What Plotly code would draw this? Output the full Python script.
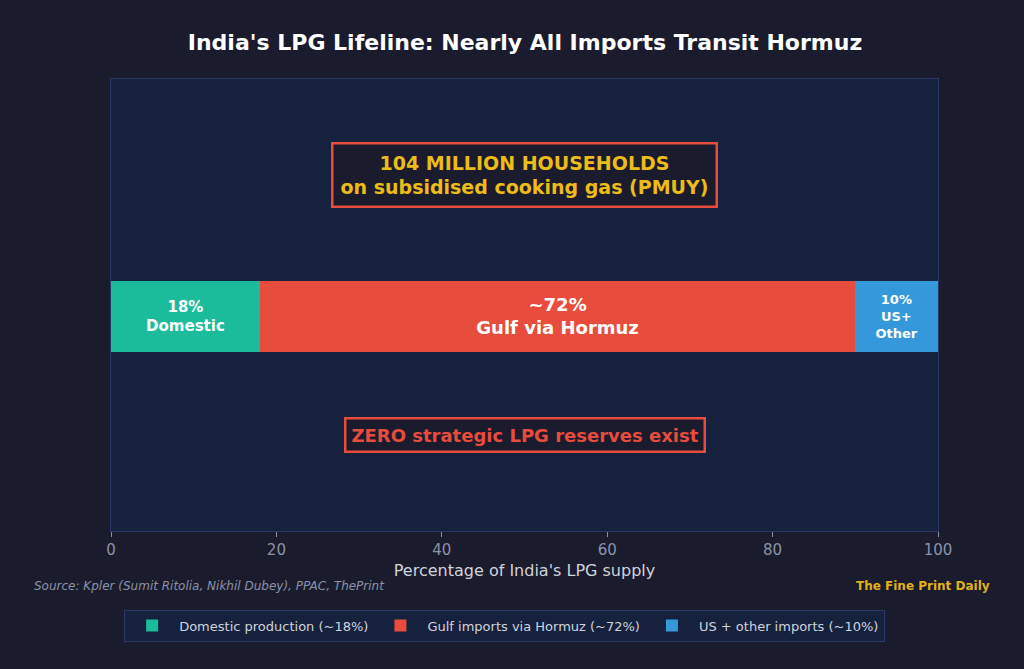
import plotly.graph_objects as go

categories = ["LPG supply"]
series_names = ["Domestic production (~18%)", "Gulf imports via Hormuz (~72%)", "US + other imports (~10%)"]
series_values = [18, 72, 10]
bar_labels = ["18%<br>Domestic", "~72%<br>Gulf via Hormuz", "10%<br>US+<br>Other"]
label_sizes = [15, 18, 13]
colors = ["#1abc9c", "#e74c3c", "#3498db"]
x_ticks = [0, 20, 40, 60, 80, 100]

PAPER = "#1b1b2e"
PLOT = "#16213e"
BORDER = "#2c3867"
FONT = "DejaVu Sans"

fig = go.Figure()
for name, val, lab, sz, col in zip(series_names, series_values, bar_labels, label_sizes, colors):
    fig.add_trace(go.Bar(
        y=[0], x=[val], orientation="h", name=name,
        marker=dict(color=col, line=dict(width=0)),
        width=0.5,
        text=[lab], textposition="inside", insidetextanchor="middle",
        textfont=dict(family=FONT, size=sz, color="white", weight="bold"),
        hoverinfo="name+x",
    ))

fig.update_layout(
    barmode="stack",
    width=1024, height=669,
    paper_bgcolor=PAPER, plot_bgcolor=PLOT,
    margin=dict(l=111, r=86, t=79, b=138),
    title=dict(text="<b>India's LPG Lifeline: Nearly All Imports Transit Hormuz</b>",
               x=0.5127, xanchor="center", y=0.937, yanchor="middle",
               font=dict(family=FONT, size=22, color="white")),
    font=dict(family=FONT, color="#d0d4dc"),
    uniformtext=dict(mode=False),
    legend=dict(orientation="h", x=0.476, xanchor="center", y=-0.174, yanchor="top",
                bgcolor=PLOT, bordercolor=BORDER, borderwidth=1,
                font=dict(family=FONT, size=13, color="#d0d4dc"),
                itemwidth=44, traceorder="normal"),
    showlegend=True,
)
fig.update_xaxes(range=[0, 100], tickvals=x_ticks, showgrid=False, zeroline=False,
                 showline=True, linecolor=BORDER, linewidth=1, mirror=True,
                 ticks="outside", ticklen=5, tickcolor="#8a93a8",
                 tickfont=dict(family=FONT, size=15, color="#8a93a8"),
                 title=dict(text="Percentage of India's LPG supply", standoff=6,
                            font=dict(family=FONT, size=16, color="#d0d4dc")))
fig.update_yaxes(range=[-1.52, 1.68], showticklabels=False, showgrid=False, zeroline=False,
                 showline=True, linecolor=BORDER, linewidth=1, mirror=True, ticks="")

fig.add_annotation(x=50, y=1.0, xref="x", yref="y",
                   text="<b>104 MILLION HOUSEHOLDS<br>on subsidised cooking gas (PMUY)</b>",
                   showarrow=False, font=dict(family=FONT, size=19, color="#ecbc18"),
                   bgcolor=PAPER, bordercolor="#e74c3c", borderwidth=2.5, borderpad=7, align="center")
fig.add_annotation(x=50, y=-0.84, xref="x", yref="y",
                   text="<b>ZERO strategic LPG reserves exist</b>",
                   showarrow=False, font=dict(family=FONT, size=18, color="#e74c3c"),
                   bgcolor=PAPER, bordercolor="#e74c3c", borderwidth=2.5, borderpad=5)
fig.add_annotation(x=-0.0955, y=-0.1217, xref="paper", yref="paper", yanchor="middle", xanchor="left",
                   text="<i>Source: Kpler (Sumit Ritolia, Nikhil Dubey), PPAC, ThePrint</i>",
                   showarrow=False, font=dict(family=FONT, size=12, color="#8a93a8"))
fig.add_annotation(x=1.0653, y=-0.1217, xref="paper", yref="paper", yanchor="middle", xanchor="right",
                   text="<b>The Fine Print Daily</b>",
                   showarrow=False, font=dict(family=FONT, size=12, color="#e0b21c"))

fig.write_html("out.html")
